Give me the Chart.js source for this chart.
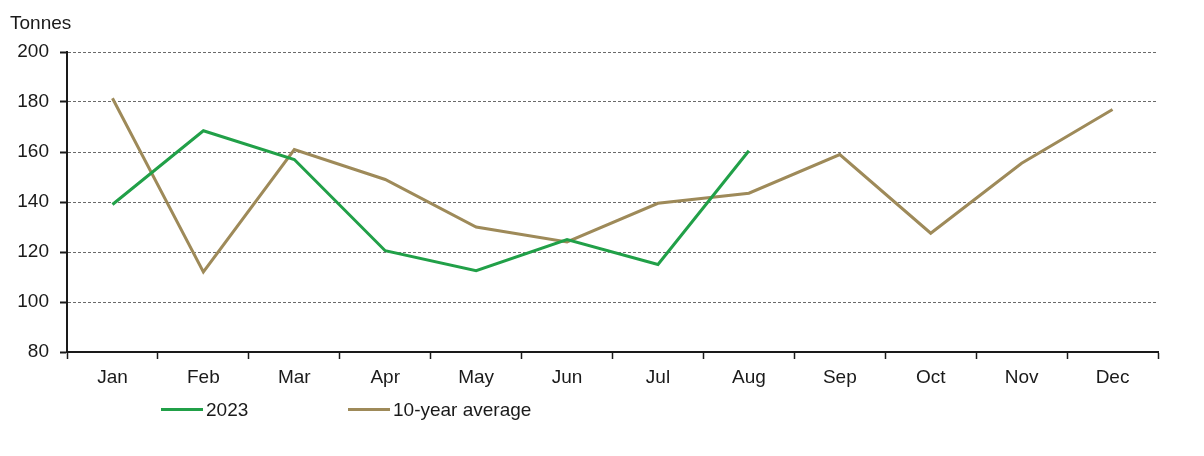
<!DOCTYPE html>
<html>
<head>
<meta charset="utf-8">
<script src="https://cdn.jsdelivr.net/npm/chart.js@4.4.0/dist/chart.umd.min.js"></script>
<style>
  html, body { margin: 0; padding: 0; background: #fff; }
  #wrap { position: relative; width: 1204px; height: 456px; font-family: "Liberation Sans", Arial, sans-serif; }
  #unit { position: absolute; left: 10px; top: 12px; font-size: 19px; color: #1a1a1a; }
  #legend { position: absolute; top: 400px; left: 0; font-size: 19px; color: #1a1a1a; }
  .item { position: absolute; top: 0; white-space: nowrap; line-height: 20px; }
  .item span.sw { display: inline-block; width: 42px; height: 3px; vertical-align: middle; margin-right: 3px; position: relative; top: -1px; }
</style>
</head>
<body>
<div id="wrap">
  <canvas id="grafico" width="1204" height="456"></canvas>
  <div id="unit">Tonnes</div>
  <div id="legend"></div>
</div>
<script>
const meses = ["Jan", "Feb", "Mar", "Apr", "May", "Jun", "Jul", "Aug", "Sep", "Oct", "Nov", "Dec"];
const serie2023 = [139, 168.5, 157, 120.5, 112.5, 125, 115, 160.5, null, null, null, null];
const promedio10 = [181.5, 112, 161, 149, 130, 124, 139.5, 143.5, 159, 127.5, 155.5, 177];
const yTicks = [80, 100, 120, 140, 160, 180, 200];

const verde = "#21a048";
const dorado = "#9e8a59";

let ctx = document.getElementById('grafico').getContext('2d');

let miChart = new Chart(ctx, {
    type: 'line',
    data: {
        labels: meses,
        datasets: [
            {
                label: "2023",
                data: serie2023,
                borderColor: verde,
                backgroundColor: verde,
                borderWidth: 3,
                pointRadius: 0,
                tension: 0,
                spanGaps: false
            },
            {
                label: "10-year average",
                data: promedio10,
                borderColor: dorado,
                backgroundColor: dorado,
                borderWidth: 3,
                pointRadius: 0,
                tension: 0
            }
        ]
    },
    options: {
        responsive: false,
        animation: false,
        layout: { padding: { left: 0, right: 46, top: 52, bottom: 64 } },
        plugins: {
            legend: { display: false },
            tooltip: { enabled: false }
        },
        scales: {
            x: {
                offset: true,
                grid: {
                    offset: true,
                    drawOnChartArea: false,
                    drawTicks: true,
                    tickLength: 7,
                    tickColor: "#1a1a1a",
                    tickWidth: 1.5
                },
                border: { display: true, color: "#1a1a1a", width: 2 },
                ticks: {
                    color: "#1a1a1a",
                    padding: 7,
                    maxRotation: 0,
                    font: { family: "Liberation Sans", size: 19 }
                },
                afterFit: function(scale) { scale.height = 40; }
            },
            y: {
                min: 80,
                max: 200,
                afterBuildTicks: function(scale) {
                    scale.ticks = yTicks.map(v => ({ value: v }));
                },
                grid: {
                    color: function(c) { return c.tick && c.tick.value === 80 ? "rgba(0,0,0,0)" : "#6a6a6a"; },
                    lineWidth: 1,
                    drawTicks: true,
                    tickLength: 7,
                    tickColor: "#1a1a1a",
                    tickWidth: 2,
                    tickBorderDash: []
                },
                border: { display: true, color: "#1a1a1a", width: 2, dash: [3, 2] },
                ticks: {
                    color: "#1a1a1a",
                    padding: 11,
                    font: { family: "Liberation Sans", size: 19 }
                },
                afterFit: function(scale) { scale.width = 67; }
            }
        }
    }
});

// leyenda propia
const leyenda = document.getElementById('legend');
const posiciones = [161, 348];
miChart.data.datasets.forEach(function(ds, i) {
    let d = document.createElement('div');
    d.className = 'item';
    d.style.left = posiciones[i] + 'px';
    d.innerHTML = '<span class="sw" style="background:' + ds.borderColor + '"></span>' + ds.label;
    leyenda.appendChild(d);
});
</script>
</body>
</html>
